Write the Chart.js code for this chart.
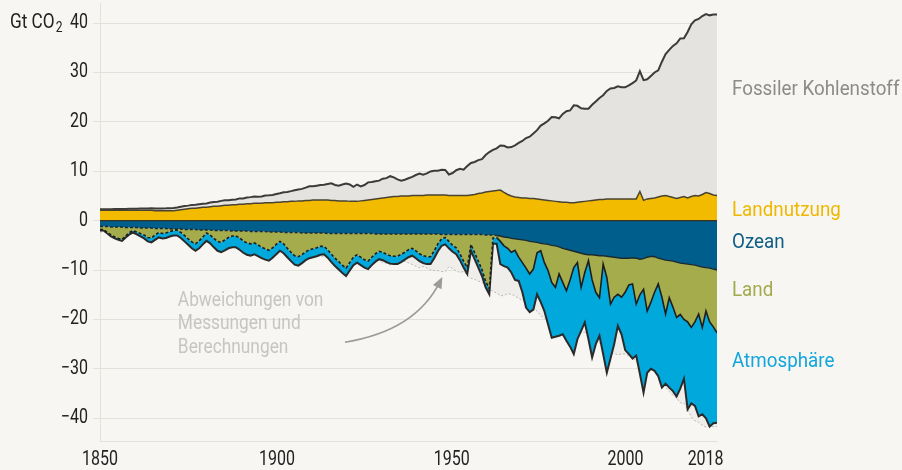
<!DOCTYPE html>
<html lang="de">
<head>
<meta charset="utf-8">
<script src="https://cdn.jsdelivr.net/npm/chart.js@4.4.1/dist/chart.umd.min.js"></script>
<style>
  html, body { margin: 0; padding: 0; background: #f7f6f3; }
  #wrap { width: 902px; height: 470px; }
</style>
</head>
<body>
<div id="wrap"><canvas id="budgetChart" width="902" height="470"></canvas></div>
<script>
// Globales CO2-Budget 1850–2018, Gt CO2 pro Jahr
const firstYear = 1850;
const lastYear = 2018;

// x-axis labels as printed, and where they sit on the year scale
const tickLabels = ['1850', '1900', '1950', '2000', '2018'];
const tickPositions = [1850, 1898.2, 1945.8, 1993.1, 2014.9];
const yTicks = [-40, -30, -20, -10, 0, 10, 20, 30, 40];

// sources
const fossil = [
  0.2, 0.2, 0.2, 0.2, 0.25, 0.26, 0.28, 0.28, 0.29, 0.3,
  0.33, 0.35, 0.36, 0.38, 0.41, 0.44, 0.45, 0.48, 0.49, 0.52,
  0.54, 0.57, 0.63, 0.67, 0.64, 0.69, 0.7, 0.71, 0.72, 0.77,
  0.86, 0.89, 0.94, 1.0, 1.01, 1.01, 1.03, 1.08, 1.2, 1.2,
  1.3, 1.36, 1.37, 1.36, 1.4, 1.49, 1.54, 1.61, 1.7, 1.86,
  1.96, 2.02, 2.07, 2.26, 2.29, 2.43, 2.59, 2.87, 2.75, 2.88,
  3.0, 3.06, 3.22, 3.46, 3.11, 3.07, 3.3, 3.5, 3.43, 2.95,
  3.41, 2.94, 3.1, 3.55, 3.53, 3.57, 3.6, 3.89, 3.9, 4.2,
  3.86, 3.44, 3.1, 3.27, 3.57, 3.76, 4.14, 4.43, 4.18, 4.37,
  4.76, 4.89, 4.92, 5.1, 5.07, 4.25, 4.54, 5.1, 5.38, 5.2,
  5.97, 6.48, 6.58, 6.75, 6.83, 7.49, 7.98, 8.32, 8.54, 9.02,
  9.44, 9.5, 9.89, 10.44, 11.02, 11.52, 12.11, 12.5, 13.15, 13.92,
  14.93, 15.5, 16.12, 16.98, 17.02, 16.91, 17.89, 18.43, 18.7, 19.74,
  19.54, 18.94, 18.73, 18.66, 19.35, 19.93, 20.54, 21.08, 21.86, 22.34,
  22.45, 22.78, 22.58, 22.58, 22.96, 23.44, 23.97, 24.37, 24.34, 24.22,
  24.79, 25.38, 25.63, 27.17, 28.6, 29.65, 30.67, 31.39, 32.18, 32.02,
  33.59, 34.82, 35.42, 35.82, 36.11, 36.09, 36.05, 36.5, 36.6
];

const landUse = [
  2.1, 2.1, 2.1, 2.1, 2.1, 2.1, 2.1, 2.1, 2.1, 2.1,
  2.1, 2.1, 2.1, 2.1, 2.1, 2.0, 2.0, 2.0, 2.0, 2.0,
  2.0, 2.1, 2.2, 2.3, 2.4, 2.5, 2.5, 2.6, 2.7, 2.7,
  2.8, 2.9, 2.9, 3.0, 3.1, 3.1, 3.2, 3.2, 3.3, 3.3,
  3.4, 3.4, 3.5, 3.5, 3.5, 3.6, 3.6, 3.6, 3.7, 3.7,
  3.8, 3.8, 3.9, 3.9, 4.0, 4.0, 4.1, 4.1, 4.2, 4.2,
  4.2, 4.2, 4.2, 4.1, 4.1, 4.0, 4.0, 4.0, 3.9, 3.9,
  3.9, 4.0, 4.1, 4.2, 4.3, 4.4, 4.5, 4.6, 4.7, 4.8,
  4.9, 4.9, 5.0, 5.0, 5.0, 5.1, 5.1, 5.1, 5.1, 5.2,
  5.2, 5.2, 5.2, 5.2, 5.2, 5.1, 5.1, 5.1, 5.1, 5.1,
  5.1, 5.2, 5.3, 5.5, 5.6, 5.8, 5.9, 6.0, 6.1, 6.2,
  5.7, 5.3, 5.0, 4.8, 4.7, 4.6, 4.6, 4.5, 4.5, 4.4,
  4.3, 4.2, 4.1, 4.0, 3.9, 3.8, 3.7, 3.7, 3.6, 3.6,
  3.7, 3.8, 3.9, 4.0, 4.1, 4.2, 4.3, 4.3, 4.4, 4.4,
  4.4, 4.4, 4.4, 4.4, 4.4, 4.4, 4.4, 5.9, 4.1, 4.4,
  4.5, 4.6, 4.8, 5.0, 5.1, 4.9, 4.7, 4.5, 4.7, 4.9,
  4.6, 4.9, 5.1, 5.0, 5.3, 5.7, 5.5, 5.2, 5.1
];

// sinks (positive numbers, drawn below zero)
const oceanSink = [
  1.2, 1.2, 1.2, 1.3, 1.3, 1.3, 1.3, 1.4, 1.4, 1.4,
  1.4, 1.5, 1.5, 1.5, 1.5, 1.6, 1.6, 1.6, 1.6, 1.7,
  1.7, 1.7, 1.7, 1.8, 1.8, 1.8, 1.8, 1.9, 1.9, 1.9,
  1.9, 2.0, 2.0, 2.0, 2.0, 2.0, 2.1, 2.1, 2.1, 2.1,
  2.1, 2.2, 2.2, 2.2, 2.2, 2.2, 2.3, 2.3, 2.3, 2.3,
  2.4, 2.4, 2.4, 2.4, 2.4, 2.5, 2.5, 2.5, 2.5, 2.5,
  2.5, 2.5, 2.6, 2.6, 2.6, 2.6, 2.6, 2.6, 2.6, 2.6,
  2.6, 2.6, 2.6, 2.6, 2.6, 2.7, 2.7, 2.7, 2.7, 2.7,
  2.7, 2.7, 2.7, 2.7, 2.7, 2.7, 2.7, 2.7, 2.7, 2.7,
  2.7, 2.7, 2.7, 2.8, 2.8, 2.8, 2.8, 2.8, 2.8, 2.8,
  2.8, 2.8, 2.8, 2.8, 2.8, 2.9, 2.9, 2.9, 3.0, 3.1,
  3.3, 3.4, 3.6, 3.7, 3.8, 3.9, 4.0, 4.2, 4.3, 4.4,
  4.6, 4.7, 4.8, 5.0, 5.1, 5.3, 5.6, 5.8, 6.0, 6.2,
  6.4, 6.6, 6.8, 6.9, 6.9, 7.0, 7.1, 7.1, 7.2, 7.3,
  7.4, 7.5, 7.6, 7.6, 7.6, 7.5, 7.6, 7.8, 7.7, 7.4,
  7.2, 7.3, 7.6, 7.8, 8.0, 8.1, 8.2, 8.4, 8.6, 8.7,
  8.8, 8.9, 9.0, 9.2, 9.4, 9.5, 9.6, 9.8, 10.0
];

const landSink = [
  0.6, 0.6, 1.2, 1.6, 2.0, 2.3, 2.5, 1.7, 1.0, 0.6,
  0.9, 1.1, 1.4, 1.9, 2.0, 1.3, 0.8, 1.0, 0.9, 0.5,
  0.3, 0.2, 0.7, 1.2, 1.9, 2.5, 2.9, 2.2, 1.4, 0.6,
  1.0, 1.6, 2.2, 2.4, 1.9, 1.4, 1.0, 1.0, 1.4, 2.0,
  2.4, 2.5, 2.3, 2.7, 3.2, 3.5, 3.7, 3.2, 2.5, 1.9,
  2.3, 3.2, 4.0, 4.7, 4.9, 4.4, 3.8, 3.4, 3.2, 3.0,
  2.7, 2.7, 3.3, 4.2, 5.0, 5.7, 6.4, 7.0, 5.9, 4.8,
  4.3, 4.8, 5.3, 5.6, 4.8, 4.0, 3.5, 3.7, 4.1, 4.4,
  4.5, 4.5, 4.1, 3.7, 3.2, 2.9, 3.4, 4.0, 4.4, 4.6,
  4.6, 3.4, 2.0, 0.9, 0.6, 1.4, 2.2, 2.7, 3.9, 5.4,
  6.7, 2.0, 3.7, 5.4, 7.1, 9.4, 10.8, 0.6, 0.4, 1.1,
  1.8, 2.2, 2.8, 2.3, 3.6, 4.6, 5.6, 6.6, 5.5, 2.1,
  1.5, 3.8, 5.3, 7.5, 8.4, 5.5, 6.9, 8.4, 6.0, 3.3,
  2.1, 6.9, 3.7, 1.2, 5.1, 7.5, 8.5, 1.7, 4.3, 9.6,
  8.1, 7.4, 7.9, 6.9, 5.4, 5.3, 9.3, 7.2, 6.2, 10.9,
  9.3, 7.2, 5.2, 7.7, 10.9, 7.5, 9.3, 11.2, 10.4, 11.3,
  11.7, 12.7, 11.5, 9.7, 12.2, 8.8, 10.9, 11.7, 12.7
];

const atmosphere = [
  0.2, 0.2, 0.2, 0.3, 0.3, 0.3, 0.3, 0.3, 0.4, 0.4,
  0.5, 0.6, 0.7, 0.8, 0.9, 1.0, 1.0, 1.0, 1.0, 1.0,
  1.0, 1.1, 1.1, 1.2, 1.2, 1.3, 1.4, 1.5, 1.5, 1.6,
  1.7, 1.8, 1.9, 2.0, 2.1, 2.2, 2.3, 2.3, 2.4, 2.4,
  2.4, 2.4, 2.3, 2.3, 2.2, 2.2, 2.1, 2.0, 2.0, 1.9,
  1.9, 1.8, 1.8, 1.8, 1.8, 1.7, 1.7, 1.7, 1.7, 1.7,
  1.7, 1.6, 1.6, 1.6, 1.6, 1.6, 1.6, 1.6, 1.6, 1.6,
  1.6, 1.6, 1.6, 1.6, 1.6, 1.6, 1.6, 1.6, 1.6, 1.6,
  1.6, 1.6, 1.6, 1.5, 1.5, 1.5, 1.5, 1.5, 1.5, 1.5,
  1.5, 1.5, 1.5, 1.4, 1.4, 1.4, 1.3, 1.3, 1.3, 1.3,
  1.3, 1.3, 1.3, 1.3, 1.3, 1.2, 1.2, 1.2, 1.3, 4.6,
  4.1, 3.9, 4.1, 6.0, 4.8, 6.0, 8.0, 7.7, 8.2, 8.4,
  10.4, 9.8, 10.9, 11.2, 10.0, 12.5, 10.5, 10.1, 13.5, 17.5,
  15.5, 8.8, 10.1, 15.9, 15.7, 10.5, 7.7, 18.2, 19.3, 11.0,
  9.5, 6.4, 7.5, 11.7, 14.0, 15.1, 10.4, 16.0, 20.9, 12.5,
  13.5, 15.9, 18.7, 18.3, 14.1, 18.2, 17.0, 16.0, 15.0, 12.0,
  17.7, 15.4, 17.0, 20.7, 17.6, 21.7, 21.2, 19.5, 18.2
];

const COLORS = {
  bg: '#f7f6f3',
  grid: '#e3e1dc',
  fossil: '#e4e3df',
  landUse: '#f2bb00',
  ocean: '#005e8c',
  land: '#a4ac4b',
  atmosphere: '#00a8dc',
  imbalance: '#efeeeb',
  line: '#2a2a2a'
};
const FONT = 'Roboto, "Liberation Sans", sans-serif';
const SQUEEZE = 0.8; // the original uses a condensed face

// stacked boundaries built from the series
const years = [];
for (let y = firstYear; y <= lastYear; y++) years.push(y);

const lucTop = years.map((yr, i) => ({ x: yr, y: landUse[i] }));
const fossilTop = years.map((yr, i) => ({ x: yr, y: landUse[i] + fossil[i] }));
const oceanLine = years.map((yr, i) => ({ x: yr, y: -oceanSink[i] }));
const landLine = years.map((yr, i) => ({ x: yr, y: -(oceanSink[i] + landSink[i]) }));
const atmLine = years.map((yr, i) => ({ x: yr, y: -(oceanSink[i] + landSink[i] + atmosphere[i]) }));
const emissionLine = years.map((yr, i) => ({ x: yr, y: -(landUse[i] + fossil[i]) }));

// before 1958 the sink boundaries are dashed
const dashedBefore1958 = { borderDash: ctx => ctx.p0.parsed.x < 1958 ? [3, 2] : undefined };

function drawText(ctx, txt, x, y, opts) {
  const o = Object.assign({ size: 20, color: '#222', align: 'left', squeeze: SQUEEZE }, opts);
  ctx.save();
  ctx.translate(x, y);
  ctx.scale(o.squeeze, 1);
  ctx.font = o.size + 'px ' + FONT;
  ctx.fillStyle = o.color;
  ctx.textAlign = o.align;
  ctx.textBaseline = 'middle';
  ctx.fillText(txt, 0, 0);
  const w = ctx.measureText(txt).width * o.squeeze;
  ctx.restore();
  return w;
}

const labelsPlugin = {
  id: 'budgetLabels',
  afterDatasetsDraw(chart) {
    const { ctx, chartArea, scales: { y } } = chart;
    const y0 = y.getPixelForValue(0);
    ctx.save();
    ctx.strokeStyle = '#3a3320';
    ctx.lineWidth = 1.2;
    ctx.beginPath();
    ctx.moveTo(chartArea.left, y0);
    ctx.lineTo(chartArea.right, y0);
    ctx.stroke();
    ctx.restore();
  },
  afterDraw(chart) {
    const { ctx, chartArea, scales: { x, y } } = chart;

    // axis labels
    yTicks.forEach(v => {
      const t = v < 0 ? '\u2212' + Math.abs(v) : String(v);
      drawText(ctx, t, chartArea.left - 12, y.getPixelForValue(v), { align: 'right' });
    });
    tickPositions.forEach((v, i) => {
      drawText(ctx, tickLabels[i], x.getPixelForValue(v), chartArea.bottom + 19, { align: 'center' });
    });

    // unit
    const yTop = y.getPixelForValue(40);
    const w = drawText(ctx, 'Gt CO', 10, yTop, { squeeze: 0.86 });
    drawText(ctx, '2', 10 + w + 1, yTop + 5, { size: 14, squeeze: 0.86 });

    // series names on the right
    const names = [
      ['Fossiler Kohlenstoff', 26.4, '#8c8b89'],
      ['Landnutzung', 2.1, '#efb800'],
      ['Ozean', -4.4, '#0d5d86'],
      ['Land', -14.1, '#a2aa4d'],
      ['Atmosphäre', -28.6, '#12a6da']
    ];
    names.forEach(([txt, val, col]) => {
      drawText(ctx, txt, 732, y.getPixelForValue(val), { size: 21, color: col, squeeze: 0.895 });
    });

    // note on the budget imbalance
    ['Abweichungen von', 'Messungen und', 'Berechnungen'].forEach((t, i) => {
      drawText(ctx, t, x.getPixelForValue(1871.2), y.getPixelForValue(-16.2) + i * 23.5,
        { color: '#c6c5c2', squeeze: 0.865 });
    });

    // curved arrow
    ctx.save();
    const sx = x.getPixelForValue(1916.7), sy = y.getPixelForValue(-24.6);
    const cx = x.getPixelForValue(1936), cy = y.getPixelForValue(-22.3);
    const ex = x.getPixelForValue(1942.6), ey = y.getPixelForValue(-12.3);
    ctx.strokeStyle = '#9c9b98';
    ctx.lineWidth = 1.6;
    ctx.beginPath();
    ctx.moveTo(sx, sy);
    ctx.quadraticCurveTo(cx, cy, ex, ey);
    ctx.stroke();
    const ang = Math.atan2(ey - cy, ex - cx);
    ctx.fillStyle = '#9c9b98';
    ctx.beginPath();
    ctx.moveTo(ex + Math.cos(ang) * 5, ey + Math.sin(ang) * 5);
    ctx.lineTo(ex + Math.cos(ang + 2.5) * 8, ey + Math.sin(ang + 2.5) * 8);
    ctx.lineTo(ex + Math.cos(ang - 2.5) * 8, ey + Math.sin(ang - 2.5) * 8);
    ctx.closePath();
    ctx.fill();
    ctx.restore();
  }
};

const bgPlugin = {
  id: 'bg',
  beforeDraw(chart) {
    const { ctx, width, height } = chart;
    ctx.save();
    ctx.fillStyle = COLORS.bg;
    ctx.fillRect(0, 0, width, height);
    ctx.restore();
  }
};

new Chart(document.getElementById('budgetChart'), {
  type: 'line',
  data: {
    datasets: [
      {
        label: 'Landnutzung',
        data: lucTop,
        borderColor: '#4a4330',
        borderWidth: 1.5,
        backgroundColor: COLORS.landUse,
        fill: 'origin'
      },
      {
        label: 'Fossiler Kohlenstoff',
        data: fossilTop,
        borderColor: '#3b3b3b',
        borderWidth: 2,
        backgroundColor: COLORS.fossil,
        fill: 0
      },
      {
        label: 'Ozean',
        data: oceanLine,
        borderWidth: 0,
        backgroundColor: COLORS.ocean,
        fill: 'origin'
      },
      {
        label: 'Land',
        data: landLine,
        borderWidth: 0,
        backgroundColor: COLORS.land,
        fill: 2
      },
      {
        label: 'Atmosphäre',
        data: atmLine,
        borderColor: COLORS.line,
        borderWidth: 2,
        backgroundColor: COLORS.atmosphere,
        fill: 3
      },
      {
        label: 'Abweichung',
        data: emissionLine,
        borderColor: '#b9b8b5',
        borderWidth: 1,
        borderDash: [2, 2],
        backgroundColor: COLORS.imbalance,
        fill: 4
      },
      // outlines of the ocean and land sinks, dashed before 1958
      {
        label: 'Ozean Rand',
        data: oceanLine,
        borderColor: '#1c2a30',
        borderWidth: 1.4,
        fill: false,
        order: -1,
        segment: dashedBefore1958
      },
      {
        label: 'Land Rand',
        data: landLine,
        borderColor: '#1e1e1e',
        borderWidth: 1.6,
        fill: false,
        order: -1,
        segment: dashedBefore1958
      }
    ]
  },
  options: {
    responsive: false,
    animation: false,
    events: [],
    layout: { padding: { top: 3, right: 185, bottom: 0, left: 0 } },
    elements: { point: { radius: 0 }, line: { tension: 0 } },
    plugins: { legend: { display: false }, tooltip: { enabled: false } },
    scales: {
      x: {
        type: 'linear',
        min: firstYear,
        max: lastYear,
        afterBuildTicks: scale => { scale.ticks = tickPositions.map(v => ({ value: v })); },
        afterFit: scale => { scale.height = 29; },
        grid: { display: false, drawTicks: false },
        border: { display: true, color: COLORS.grid },
        ticks: { display: false }
      },
      y: {
        min: -44.6,
        max: 44.05,
        afterBuildTicks: scale => { scale.ticks = yTicks.map(v => ({ value: v })); },
        afterFit: scale => { scale.width = 100; },
        grid: { color: COLORS.grid, tickLength: 7, tickColor: COLORS.grid },
        border: { display: true, color: COLORS.grid },
        ticks: { display: false }
      }
    }
  },
  plugins: [bgPlugin, labelsPlugin]
});
</script>
</body>
</html>
